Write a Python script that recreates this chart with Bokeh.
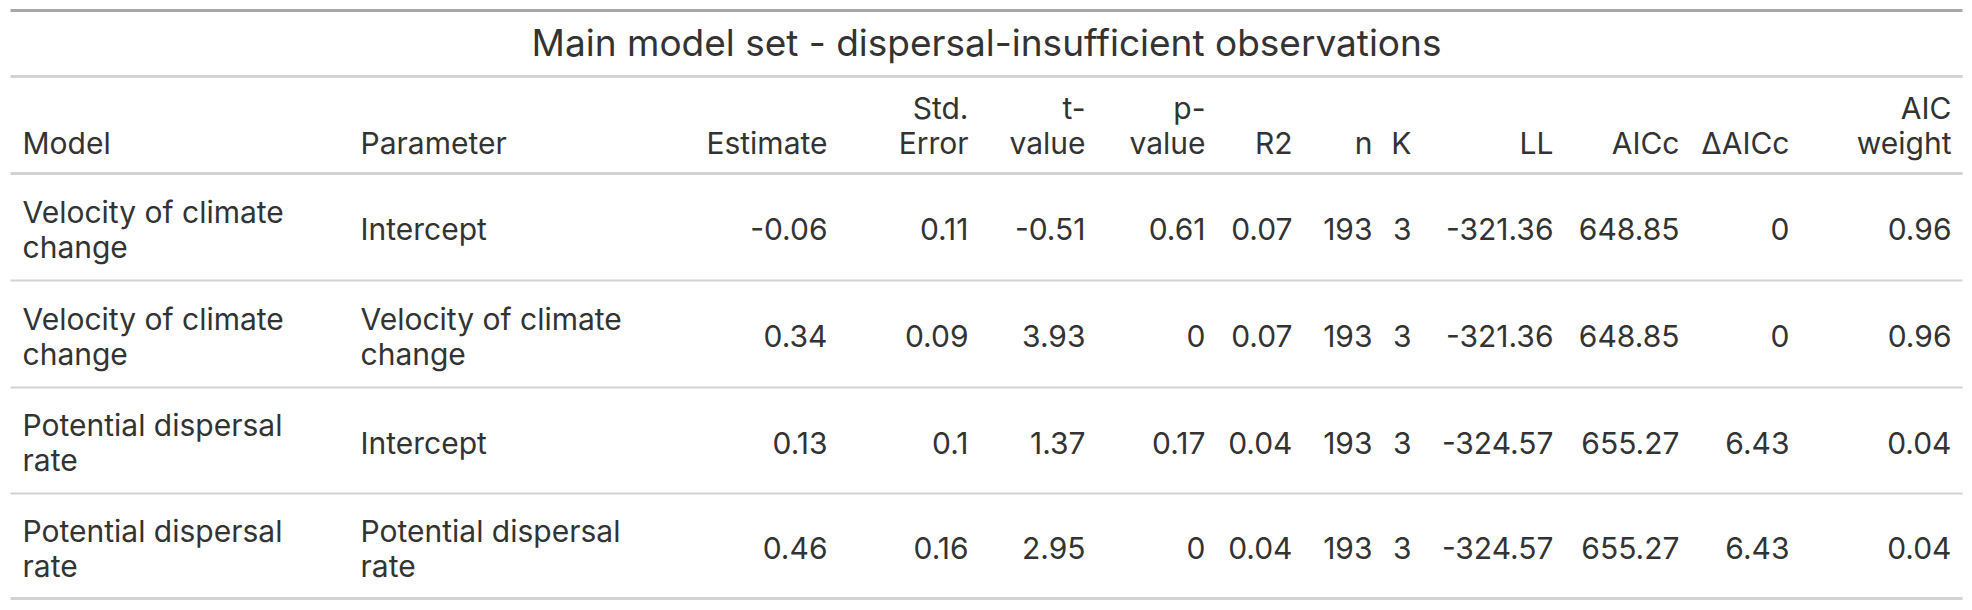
import textwrap
from bokeh.plotting import figure
from bokeh.models import Range1d, ColumnDataSource
from bokeh.core.properties import value
from bokeh.embed import file_html
from bokeh.resources import INLINE

title = "Main model set - dispersal-insufficient observations"
headers = ["Model", "Parameter", "Estimate", "Std.\nError", "t-\nvalue", "p-\nvalue",
           "R2", "n", "K", "LL", "AICc", "\u0394AICc", "AIC\nweight"]

models = ["Velocity of climate change", "Velocity of climate change",
          "Potential dispersal rate", "Potential dispersal rate"]
parameters = ["Intercept", "Velocity of climate change",
              "Intercept", "Potential dispersal rate"]
estimate = [-0.06, 0.34, 0.13, 0.46]
std_error = [0.11, 0.09, 0.1, 0.16]
t_value = [-0.51, 3.93, 1.37, 2.95]
p_value = [0.61, 0, 0.17, 0]
r2 = [0.07, 0.07, 0.04, 0.04]
n_obs = [193, 193, 193, 193]
k_par = [3, 3, 3, 3]
ll = [-321.36, -321.36, -324.57, -324.57]
aicc = [648.85, 648.85, 655.27, 655.27]
delta_aicc = [0, 0, 6.43, 6.43]
aic_weight = [0.96, 0.96, 0.04, 0.04]

# bokeh's page template has no body margin, so the figure fills the window
W, H = 1972, 610
FONT = value("Inter")
COLOR = "#333333"
BODY = "30px"
LINE_H = 35
# svg text lands a bit low with alphabetic baseline, pull it up
SHIFT_BODY = 9.5
SHIFT_TITLE = 16

# column anchors (x) and alignment
col_x = [22, 360, 827, 968, 1085, 1205, 1292, 1372, 1411, 1553, 1679, 1789, 1951]
col_align = ["left", "left"] + ["right"] * 11

p = figure(width=W, height=H, output_backend="svg", toolbar_location=None,
           x_range=Range1d(0, W), y_range=Range1d(H, 0), min_border=0,
           outline_line_color=None, background_fill_color="white")
p.axis.visible = False
p.grid.visible = False

# rules
x0, x1 = 10, 1962
p.segment(x0=[x0], x1=[x1], y0=[10], y1=[10], line_color="#A8A8A8", line_width=3)
p.segment(x0=[x0] * 3, x1=[x1] * 3, y0=[76, 173, 598], y1=[76, 173, 598],
          line_color="#D3D3D3", line_width=3)
row_edges = [173, 280, 387, 493, 598]
p.segment(x0=[x0] * 3, x1=[x1] * 3, y0=row_edges[1:4], y1=row_edges[1:4],
          line_color="#D3D3D3", line_width=2)

# title
p.text(x=[(x0 + x1) / 2], y=[58 - SHIFT_TITLE], text=[title], text_font=FONT,
       text_font_size="37px", text_color=COLOR, text_align="center",
       text_baseline="alphabetic")

xs, ys, txt, al = [], [], [], []

# header, bottom aligned
for h, cx, a in zip(headers, col_x, col_align):
    lines = h.split("\n")
    for i, line in enumerate(lines):
        xs.append(cx)
        ys.append(152 - SHIFT_BODY - (len(lines) - 1 - i) * LINE_H)
        txt.append(line)
        al.append(a)


def fmt(v):
    return f"{v:g}"


columns = [models, parameters, estimate, std_error, t_value, p_value, r2,
           n_obs, k_par, ll, aicc, delta_aicc, aic_weight]
for r in range(len(models)):
    center = (row_edges[r] + row_edges[r + 1]) / 2
    for c, (col, cx, a) in enumerate(zip(columns, col_x, col_align)):
        v = col[r]
        lines = textwrap.wrap(v, 19) if isinstance(v, str) else [fmt(v)]
        for i, line in enumerate(lines):
            xs.append(cx)
            ys.append(center + 11.5 - SHIFT_BODY + (i - (len(lines) - 1) / 2) * LINE_H)
            txt.append(line)
            al.append(a)

src = ColumnDataSource(dict(x=xs, y=ys, text=txt, align=al))
p.text(x="x", y="y", text="text", text_align="align", source=src, text_font=FONT,
       text_font_size=BODY, text_color=COLOR, text_baseline="alphabetic")

open("out.html", "w").write(file_html(p, INLINE))
